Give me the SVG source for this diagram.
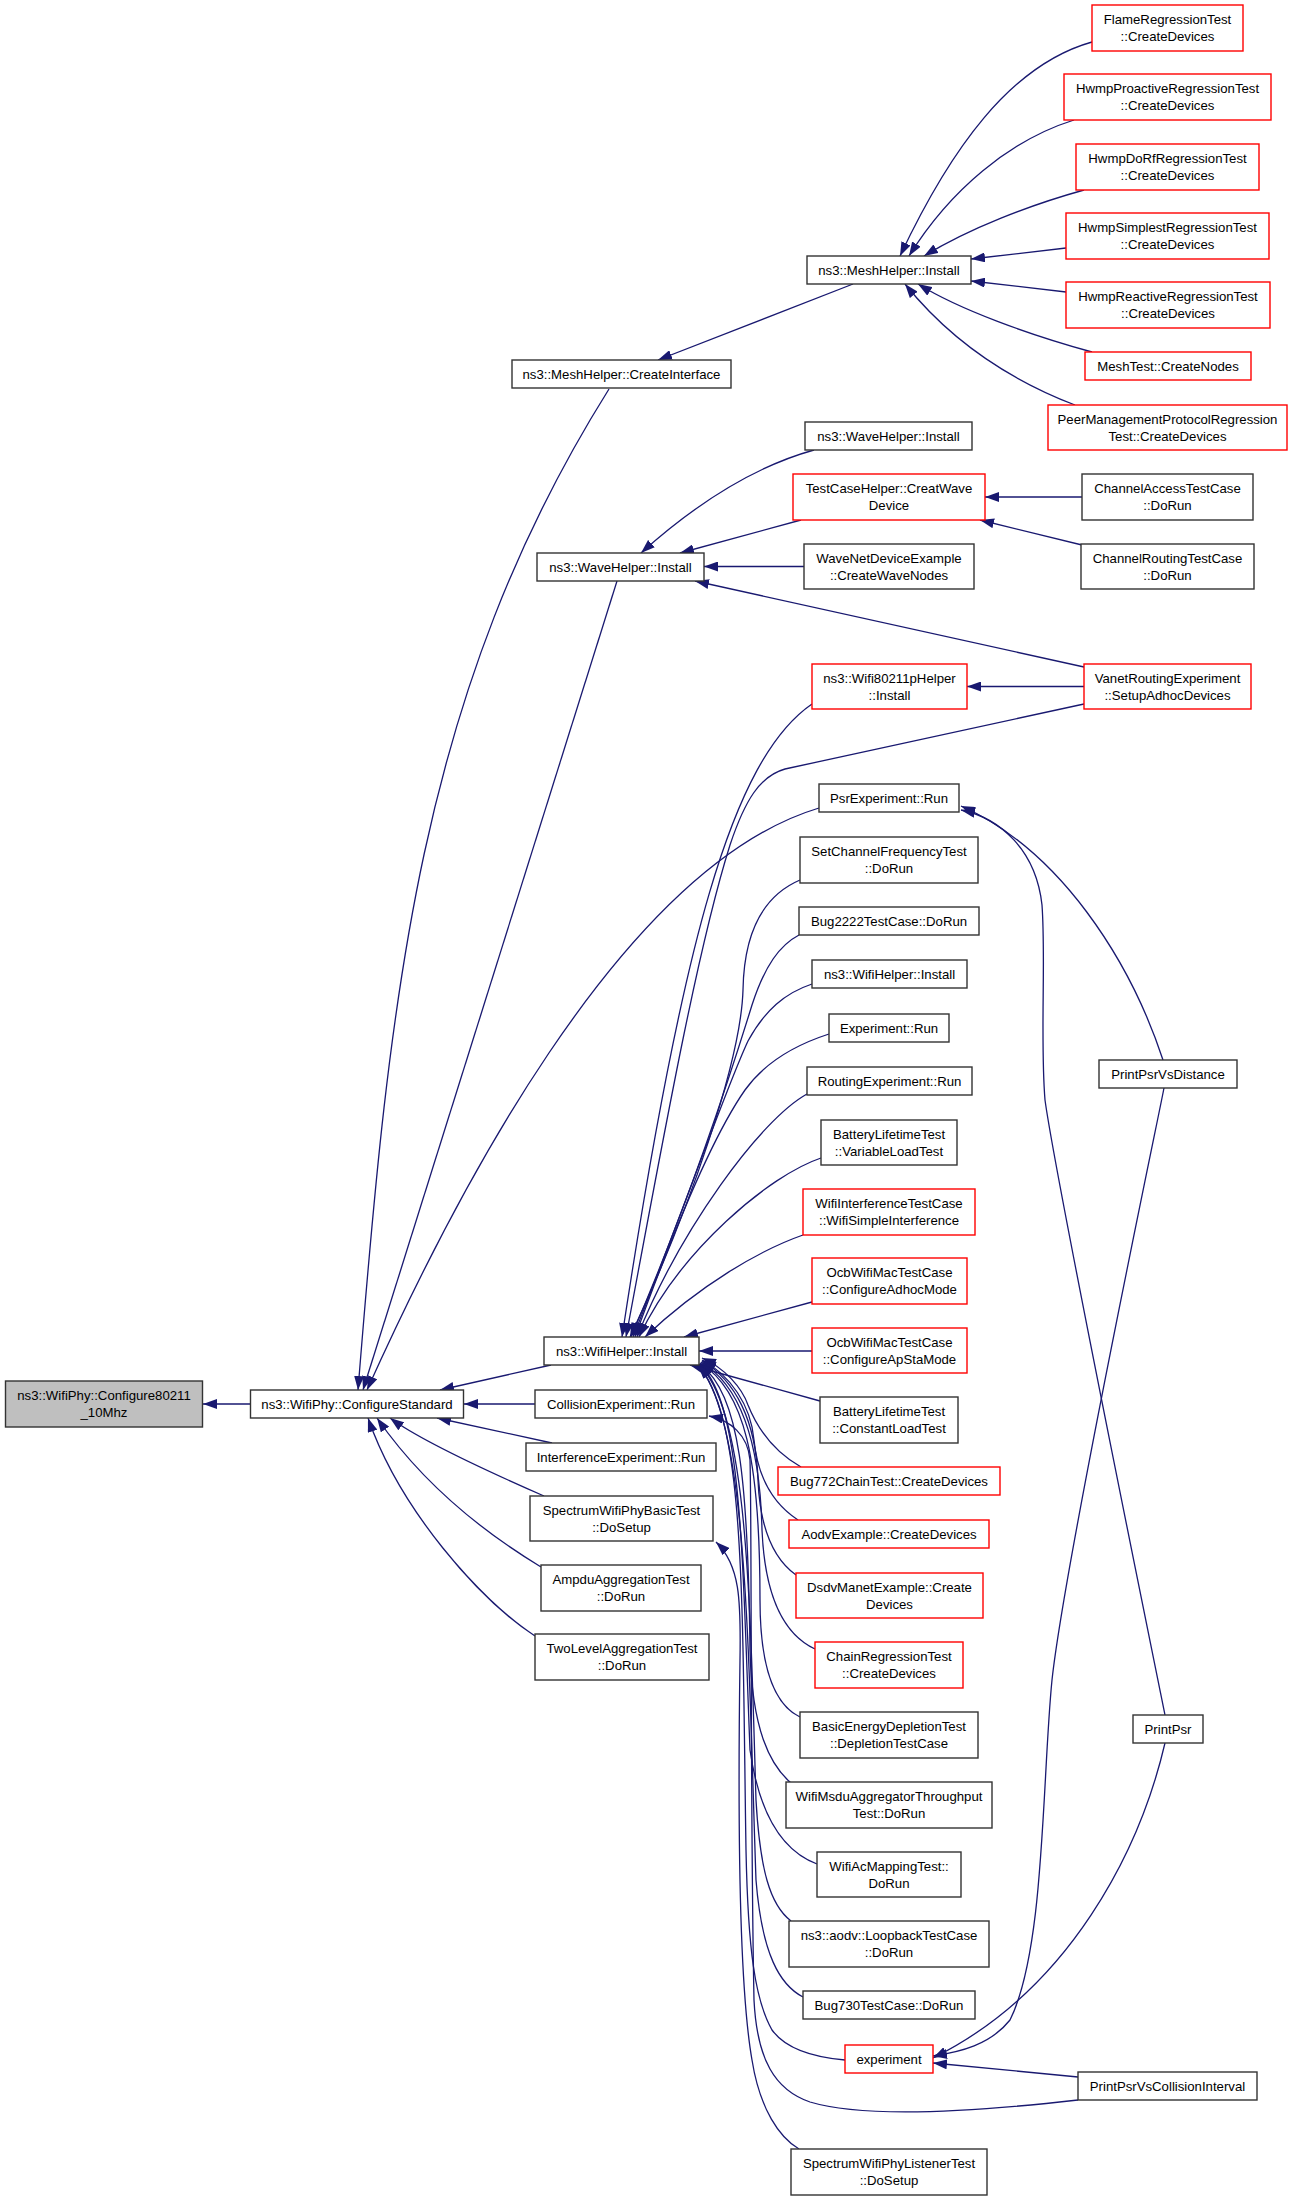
<svg xmlns="http://www.w3.org/2000/svg" width="1293" height="2197" viewBox="0 0 1293 2197">
<defs>
<style>
.n rect{fill:#fff;stroke:#333;stroke-width:1.4}
.r rect{fill:#fff;stroke:#f00;stroke-width:1.4}
.g rect{fill:#bfbfbf;stroke:#333;stroke-width:1.4}
text{font-family:"Liberation Sans",Arial,Helvetica,sans-serif;font-size:13.2px;text-anchor:middle;fill:#000}
#edges path{fill:none;stroke:#191970;stroke-width:1.3;marker-end:url(#a)}
</style>
<marker id="a" markerUnits="userSpaceOnUse" markerWidth="14" markerHeight="10" refX="14" refY="5" orient="auto" viewBox="0 0 14 10"><path d="M0,0L14,5L0,10z" fill="#191970"/></marker>
</defs>
<rect x="0" y="0" width="1293" height="2197" fill="#fff"/>
<g id="edges">
<path d="M250.5,1404 L203,1404"/>
<path d="M609,389 C419,692 390,991 358,1390"/>
<path d="M617,581 C487,987 406.5,1246.5 363,1390"/>
<path d="M819,808 C619,868 449,1208 367,1390"/>
<path d="M551,1365 L440,1390"/>
<path d="M535,1404 L464,1404"/>
<path d="M552,1443 L437,1418"/>
<path d="M544,1496 C480,1468 420,1440 390,1418"/>
<path d="M541,1567 C480,1530 420,1480 377,1418"/>
<path d="M535,1636 C480,1600 400,1510 368,1418"/>
<path d="M853,284 L658,360"/>
<path d="M1092,42 C1010,65 950,150 900,256"/>
<path d="M1074,120 C1010,140 950,190 909,256"/>
<path d="M1084,190 C1030,205 970,228 924,256"/>
<path d="M1066,248 L971,259"/>
<path d="M1066,292 L971,281"/>
<path d="M1092,352 C1030,335 960,310 918,284"/>
<path d="M1075,405 C1010,380 950,340 905,284"/>
<path d="M814,450 C760,465 700,500 641,553"/>
<path d="M801,520 L680,553"/>
<path d="M1082,497 L985,497"/>
<path d="M1082,545 L980,520"/>
<path d="M804,566.5 L704,566.5"/>
<path d="M1084,667 L695,581"/>
<path d="M1084,686.5 L967,686.5"/>
<path d="M812,704 C732,759 682,941 622,1337"/>
<path d="M1084,704 L785,769 C760,776 745,800 730,845 C700,940 670,1100 626,1337"/>
<path d="M800,880 C765,895 744,930 743,990 C741,1060 690,1210 630,1337"/>
<path d="M799,935 C780,945 765,965 752,1005 C735,1060 690,1200 631,1337"/>
<path d="M812,984 C785,993 765,1010 748,1041 C725,1090 680,1220 633,1337"/>
<path d="M829,1034 C795,1045 765,1062 745,1090 C710,1140 670,1240 635,1337"/>
<path d="M807,1094 C760,1120 680,1230 637,1337"/>
<path d="M821,1158 C770,1175 680,1250 639,1337"/>
<path d="M803,1235 C760,1250 700,1285 645,1337"/>
<path d="M812,1302 L684,1337"/>
<path d="M812,1351 L699,1351"/>
<path d="M820,1401 L690,1365"/>
<path d="M801,1467 C780,1455 760,1435 748,1405 C742,1388 725,1368 702,1358"/>
<path d="M798,1520 C775,1505 758,1480 754,1440 C751,1405 730,1375 702,1360"/>
<path d="M796,1575 C775,1560 760,1530 758,1480 C756,1420 735,1380 702,1361"/>
<path d="M815,1649 C785,1635 765,1600 762,1530 C760,1440 740,1385 701,1362"/>
<path d="M800,1717 C775,1705 760,1670 760,1600 C760,1460 745,1390 700,1363"/>
<path d="M791,1783 C770,1765 752,1730 750,1650 C748,1480 740,1395 700,1364"/>
<path d="M817,1864 C785,1852 760,1820 750,1750 C742,1550 742,1400 699,1364"/>
<path d="M791,1921 C770,1905 760,1870 756,1800 C750,1600 748,1410 699,1365"/>
<path d="M803,1997 C780,1985 762,1955 756,1880 C748,1650 748,1420 698,1365"/>
<path d="M845,2060 C810,2057 785,2048 772,2030 C755,2000 748,1950 746,1850 C742,1600 746,1420 698,1365"/>
<path d="M1078,2100 C990,2110 870,2120 810,2102 C775,2090 757,2060 754,2000 C750,1800 752,1520 750,1460 C748,1435 730,1420 709,1416"/>
<path d="M799,2149 C780,2138 760,2110 752,2060 C738,1980 738,1800 740,1660 C741,1600 740,1565 716,1542"/>
<path d="M1163,1060 C1130,960 1060,850 961,806"/>
<path d="M1165,1715 C1160,1690 1056,1180 1045,1100 C1040,1040 1046,960 1042,905 C1036,850 1000,818 961,810"/>
<path d="M1164,1088 C1160,1110 1065,1560 1052,1680 C1042,1780 1045,1950 1010,2020 C990,2045 960,2052 933,2056"/>
<path d="M1165,1743 C1140,1850 1070,1990 933,2058"/>
<path d="M1078,2077 L933,2063"/>
</g>
<g id="root" class="g"><rect x="5.5" y="1381" width="197" height="46"/><text x="104" y="1400">ns3::WifiPhy::Configure80211</text><text x="104" y="1416.5">_10Mhz</text></g>
<g id="configureStandard" class="n"><rect x="250.5" y="1390" width="213" height="28"/><text x="357" y="1408.5">ns3::WifiPhy::ConfigureStandard</text></g>
<g id="wifiHelperInstall" class="n"><rect x="544" y="1337" width="155" height="28"/><text x="621.5" y="1355.5">ns3::WifiHelper::Install</text></g>
<g id="collisionRun" class="n"><rect x="535" y="1390" width="172" height="28"/><text x="621" y="1408.5">CollisionExperiment::Run</text></g>
<g id="interferenceRun" class="n"><rect x="526" y="1443" width="190" height="28"/><text x="621" y="1461.5">InterferenceExperiment::Run</text></g>
<g id="spectrumBasic" class="n"><rect x="530" y="1496" width="183" height="45"/><text x="621.5" y="1515">SpectrumWifiPhyBasicTest</text><text x="621.5" y="1531.5">::DoSetup</text></g>
<g id="ampdu" class="n"><rect x="541" y="1565" width="160" height="46"/><text x="621" y="1584">AmpduAggregationTest</text><text x="621" y="1600.5">::DoRun</text></g>
<g id="twoLevel" class="n"><rect x="535" y="1634" width="174" height="46"/><text x="622" y="1653">TwoLevelAggregationTest</text><text x="622" y="1669.5">::DoRun</text></g>
<g id="createInterface" class="n"><rect x="512" y="360" width="219" height="28"/><text x="621.5" y="378.5">ns3::MeshHelper::CreateInterface</text></g>
<g id="meshInstall" class="n"><rect x="807" y="256" width="164" height="28"/><text x="889" y="274.5">ns3::MeshHelper::Install</text></g>
<g id="flame" class="r"><rect x="1092" y="5" width="151" height="46"/><text x="1167.5" y="24">FlameRegressionTest</text><text x="1167.5" y="40.5">::CreateDevices</text></g>
<g id="hwmpProactive" class="r"><rect x="1064" y="74" width="207" height="46"/><text x="1167.5" y="93">HwmpProactiveRegressionTest</text><text x="1167.5" y="109.5">::CreateDevices</text></g>
<g id="hwmpDoRf" class="r"><rect x="1076" y="144" width="183" height="46"/><text x="1167.5" y="163">HwmpDoRfRegressionTest</text><text x="1167.5" y="179.5">::CreateDevices</text></g>
<g id="hwmpSimplest" class="r"><rect x="1066" y="213" width="203" height="46"/><text x="1167.5" y="232">HwmpSimplestRegressionTest</text><text x="1167.5" y="248.5">::CreateDevices</text></g>
<g id="hwmpReactive" class="r"><rect x="1066" y="282" width="204" height="46"/><text x="1168" y="301">HwmpReactiveRegressionTest</text><text x="1168" y="317.5">::CreateDevices</text></g>
<g id="meshTest" class="r"><rect x="1085" y="352" width="166" height="28"/><text x="1168" y="370.5">MeshTest::CreateNodes</text></g>
<g id="peerMgmt" class="r"><rect x="1048" y="405" width="239" height="45"/><text x="1167.5" y="424">PeerManagementProtocolRegression</text><text x="1167.5" y="440.5">Test::CreateDevices</text></g>
<g id="waveInstallTop" class="n"><rect x="805" y="422" width="167" height="28"/><text x="888.5" y="440.5">ns3::WaveHelper::Install</text></g>
<g id="testCaseHelper" class="r"><rect x="793" y="474" width="192" height="46"/><text x="889" y="493">TestCaseHelper::CreatWave</text><text x="889" y="509.5">Device</text></g>
<g id="channelAccess" class="n"><rect x="1082" y="474" width="171" height="46"/><text x="1167.5" y="493">ChannelAccessTestCase</text><text x="1167.5" y="509.5">::DoRun</text></g>
<g id="waveNet" class="n"><rect x="804" y="544" width="170" height="45"/><text x="889" y="563">WaveNetDeviceExample</text><text x="889" y="579.5">::CreateWaveNodes</text></g>
<g id="channelRouting" class="n"><rect x="1081" y="544" width="173" height="45"/><text x="1167.5" y="563">ChannelRoutingTestCase</text><text x="1167.5" y="579.5">::DoRun</text></g>
<g id="waveInstall" class="n"><rect x="537" y="553" width="167" height="28"/><text x="620.5" y="571.5">ns3::WaveHelper::Install</text></g>
<g id="wifi80211p" class="r"><rect x="812" y="664" width="155" height="45"/><text x="889.5" y="683">ns3::Wifi80211pHelper</text><text x="889.5" y="699.5">::Install</text></g>
<g id="vanet" class="r"><rect x="1084" y="664" width="167" height="45"/><text x="1167.5" y="683">VanetRoutingExperiment</text><text x="1167.5" y="699.5">::SetupAdhocDevices</text></g>
<g id="psrRun" class="n"><rect x="819" y="784" width="140" height="28"/><text x="889" y="802.5">PsrExperiment::Run</text></g>
<g id="setChannel" class="n"><rect x="800" y="837" width="178" height="46"/><text x="889" y="856">SetChannelFrequencyTest</text><text x="889" y="872.5">::DoRun</text></g>
<g id="bug2222" class="n"><rect x="799" y="907" width="180" height="28"/><text x="889" y="925.5">Bug2222TestCase::DoRun</text></g>
<g id="wifiHelperInstall2" class="n"><rect x="812" y="960" width="155" height="28"/><text x="889.5" y="978.5">ns3::WifiHelper::Install</text></g>
<g id="experimentRun" class="n"><rect x="829" y="1014" width="120" height="28"/><text x="889" y="1032.5">Experiment::Run</text></g>
<g id="routingRun" class="n"><rect x="807" y="1067" width="165" height="28"/><text x="889.5" y="1085.5">RoutingExperiment::Run</text></g>
<g id="printPsrVsDistance" class="n"><rect x="1099" y="1060" width="138" height="28"/><text x="1168" y="1078.5">PrintPsrVsDistance</text></g>
<g id="batteryVariable" class="n"><rect x="821" y="1120" width="136" height="45"/><text x="889" y="1139">BatteryLifetimeTest</text><text x="889" y="1155.5">::VariableLoadTest</text></g>
<g id="wifiInterference" class="r"><rect x="803" y="1189" width="172" height="46"/><text x="889" y="1208">WifiInterferenceTestCase</text><text x="889" y="1224.5">::WifiSimpleInterference</text></g>
<g id="ocbAdhoc" class="r"><rect x="812" y="1258" width="155" height="46"/><text x="889.5" y="1277">OcbWifiMacTestCase</text><text x="889.5" y="1293.5">::ConfigureAdhocMode</text></g>
<g id="ocbApSta" class="r"><rect x="812" y="1328" width="155" height="45"/><text x="889.5" y="1347">OcbWifiMacTestCase</text><text x="889.5" y="1363.5">::ConfigureApStaMode</text></g>
<g id="batteryConstant" class="n"><rect x="820" y="1397" width="138" height="46"/><text x="889" y="1416">BatteryLifetimeTest</text><text x="889" y="1432.5">::ConstantLoadTest</text></g>
<g id="bug772" class="r"><rect x="778" y="1467" width="222" height="28"/><text x="889" y="1485.5">Bug772ChainTest::CreateDevices</text></g>
<g id="aodvExample" class="r"><rect x="789" y="1520" width="200" height="28"/><text x="889" y="1538.5">AodvExample::CreateDevices</text></g>
<g id="dsdvManet" class="r"><rect x="796" y="1573" width="187" height="45"/><text x="889.5" y="1592">DsdvManetExample::Create</text><text x="889.5" y="1608.5">Devices</text></g>
<g id="chainRegression" class="r"><rect x="815" y="1642" width="148" height="46"/><text x="889" y="1661">ChainRegressionTest</text><text x="889" y="1677.5">::CreateDevices</text></g>
<g id="basicEnergy" class="n"><rect x="800" y="1712" width="178" height="46"/><text x="889" y="1731">BasicEnergyDepletionTest</text><text x="889" y="1747.5">::DepletionTestCase</text></g>
<g id="msduAggregator" class="n"><rect x="786" y="1782" width="206" height="46"/><text x="889" y="1801">WifiMsduAggregatorThroughput</text><text x="889" y="1817.5">Test::DoRun</text></g>
<g id="acMapping" class="n"><rect x="817" y="1852" width="144" height="45"/><text x="889" y="1871">WifiAcMappingTest::</text><text x="889" y="1887.5">DoRun</text></g>
<g id="aodvLoopback" class="n"><rect x="789" y="1921" width="200" height="46"/><text x="889" y="1940">ns3::aodv::LoopbackTestCase</text><text x="889" y="1956.5">::DoRun</text></g>
<g id="bug730" class="n"><rect x="803" y="1991" width="172" height="28"/><text x="889" y="2009.5">Bug730TestCase::DoRun</text></g>
<g id="experiment" class="r"><rect x="845" y="2045" width="88" height="28"/><text x="889" y="2063.5">experiment</text></g>
<g id="printPsrVsCollision" class="n"><rect x="1078" y="2072" width="179" height="28"/><text x="1167.5" y="2090.5">PrintPsrVsCollisionInterval</text></g>
<g id="spectrumListener" class="n"><rect x="791" y="2149" width="196" height="46"/><text x="889" y="2168">SpectrumWifiPhyListenerTest</text><text x="889" y="2184.5">::DoSetup</text></g>
<g id="printPsr" class="n"><rect x="1133" y="1715" width="70" height="28"/><text x="1168" y="1733.5">PrintPsr</text></g>
</svg>
